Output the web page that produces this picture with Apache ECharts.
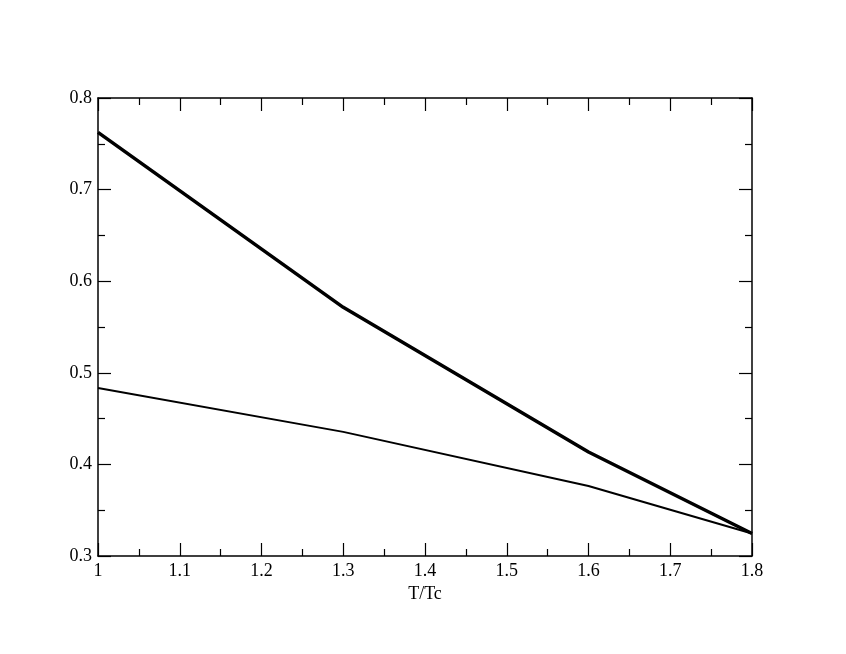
<!DOCTYPE html>
<html><head><meta charset="utf-8">
<script src="https://cdn.jsdelivr.net/npm/echarts@6/dist/echarts.min.js"></script>
<style>html,body{margin:0;padding:0;background:#fff}#c{width:846px;height:654px}</style>
</head><body><div id="c"></div>
<script>
var xValues = [1.0, 1.3, 1.6, 1.8];
var thickSeries = [0.7625, 0.5715, 0.4135, 0.3245];
var thinSeries = [0.4835, 0.4355, 0.3765, 0.3245];
var xTicks = [1, 1.1, 1.2, 1.3, 1.4, 1.5, 1.6, 1.7, 1.8];
var yTicks = [0.3, 0.4, 0.5, 0.6, 0.7, 0.8];
var xName = 'T/Tc';

function pairs(xs, ys){ return xs.map(function(x,i){return [x, ys[i]];}); }
var font = 'Liberation Serif';
function axisBase(showLabel){
  return {
    axisLine:{show:true,lineStyle:{color:'#000',width:1.5}},
    axisTick:{show:true,inside:true,length:13,lineStyle:{color:'#000',width:1.2}},
    minorTick:{show:true,splitNumber:2,length:7,lineStyle:{color:'#000',width:1.2}},
    splitLine:{show:false},
    axisLabel:{show:showLabel,color:'#000',fontFamily:font,fontSize:18}
  };
}
var xb = Object.assign(axisBase(true), {type:'value',position:'bottom',min:1,max:1.8,interval:0.1,
  name:xName,nameLocation:'middle',nameGap:23,nameTextStyle:{color:'#000',fontFamily:font,fontSize:18}});
xb.axisLabel.margin = 6;
xb.axisLabel.formatter = function(v){return String(Math.round(v*10)/10);};
var xt = Object.assign(axisBase(false), {type:'value',position:'top',min:1,max:1.8,interval:0.1});
var yl = Object.assign(axisBase(true), {type:'value',position:'left',min:0.3,max:0.8,interval:0.1});
yl.axisLabel.margin = 6;
yl.axisLabel.formatter = function(v){return String(Math.round(v*10)/10);};
var yr = Object.assign(axisBase(false), {type:'value',position:'right',min:0.3,max:0.8,interval:0.1});

var chart = echarts.init(document.getElementById('c'));
chart.setOption({
  animation:false,
  backgroundColor:'#fff',
  grid:{left:98,right:94,top:98,bottom:98},
  xAxis:[xb, xt],
  yAxis:[yl, yr],
  series:[
    {type:'line',data:pairs(xValues,thickSeries),showSymbol:false,lineStyle:{color:'#000',width:3.5}},
    {type:'line',data:pairs(xValues,thinSeries),showSymbol:false,lineStyle:{color:'#000',width:2}}
  ]
});
</script></body></html>
